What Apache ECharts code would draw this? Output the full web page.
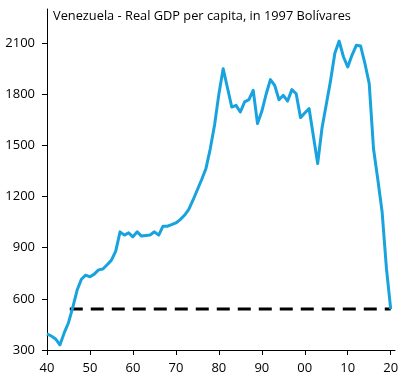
<!DOCTYPE html>
<html>
<head>
<meta charset="utf-8">
<script src="https://cdn.jsdelivr.net/npm/echarts@6/dist/echarts.min.js"></script>
<style>
html,body{margin:0;padding:0;background:#fff;}
#chart{width:403px;height:379px;}
</style>
</head>
<body>
<div id="chart"></div>
<script>
var titleText = 'Venezuela - Real GDP per capita, in 1997 Bolívares';
var years = [];
for (var y = 1940; y <= 2020; y++) years.push(y);
var gdp = [
  394, 382, 365, 330, 400, 460, 550, 650, 715, 739,
  729, 745, 770, 775, 800, 827, 880, 993, 974, 987,
  964, 993, 968, 972, 975, 993, 974, 1026, 1026, 1035,
  1045, 1065, 1090, 1125, 1180, 1240, 1300, 1365, 1480, 1620,
  1800, 1950, 1838, 1725, 1735, 1696, 1755, 1768, 1823, 1628,
  1700, 1800, 1886, 1852, 1768, 1794, 1760, 1827, 1803, 1663,
  1690, 1716, 1555, 1394, 1600, 1740, 1880, 2040, 2112, 2020,
  1960, 2030, 2087, 2083, 1980, 1862, 1480, 1300, 1110, 780,
  540
];
var refYears = [1945.3, 2020];
var refValue = [540, 540];
var xTicks = [1940, 1950, 1960, 1970, 1980, 1990, 2000, 2010, 2020];
var yTicks = [300, 600, 900, 1200, 1500, 1800, 2100];

var fontFam = '"Open Sans", "Noto Sans", sans-serif';
var chart = echarts.init(document.getElementById('chart'), null, {renderer: 'canvas'});
chart.setOption({
  animation: false,
  backgroundColor: '#fff',
  title: {
    text: titleText,
    left: 48, top: 5,
    textStyle: {fontFamily: fontFam, fontSize: 12.8, fontWeight: 'normal', color: '#000'}
  },
  grid: {left: 47, right: 8, top: 9, bottom: 29, containLabel: false},
  xAxis: {
    type: 'value', min: 1940, max: 2021,
    axisLine: {show: true, lineStyle: {color: '#000', width: 1}},
    axisTick: {show: true, length: 5, inside: false, customValues: xTicks, lineStyle: {color: '#000'}},
    axisLabel: {
      customValues: xTicks, margin: 12, color: '#000', fontFamily: fontFam, fontSize: 13,
      formatter: function (v) { return String(v).slice(2); }
    },
    splitLine: {show: false}
  },
  yAxis: {
    type: 'value', min: 300, max: 2300,
    axisLine: {show: true, lineStyle: {color: '#000', width: 1}},
    axisTick: {show: true, length: 5, inside: false, customValues: yTicks, lineStyle: {color: '#000'}},
    axisLabel: {
      customValues: yTicks, margin: 12, color: '#000', fontFamily: fontFam, fontSize: 13,
      formatter: function (v) { return String(v); }
    },
    splitLine: {show: false}
  },
  series: [
    {
      type: 'line',
      data: refYears.map(function (yr, i) { return [yr, refValue[i]]; }),
      symbol: 'none',
      lineStyle: {color: '#000', width: 3, type: [13, 8]},
      z: 2
    },
    {
      type: 'line',
      data: years.map(function (yr, i) { return [yr, gdp[i]]; }),
      symbol: 'none',
      lineStyle: {color: '#19a3de', width: 3, join: 'round'},
      z: 3
    }
  ]
});
</script>
</body>
</html>
